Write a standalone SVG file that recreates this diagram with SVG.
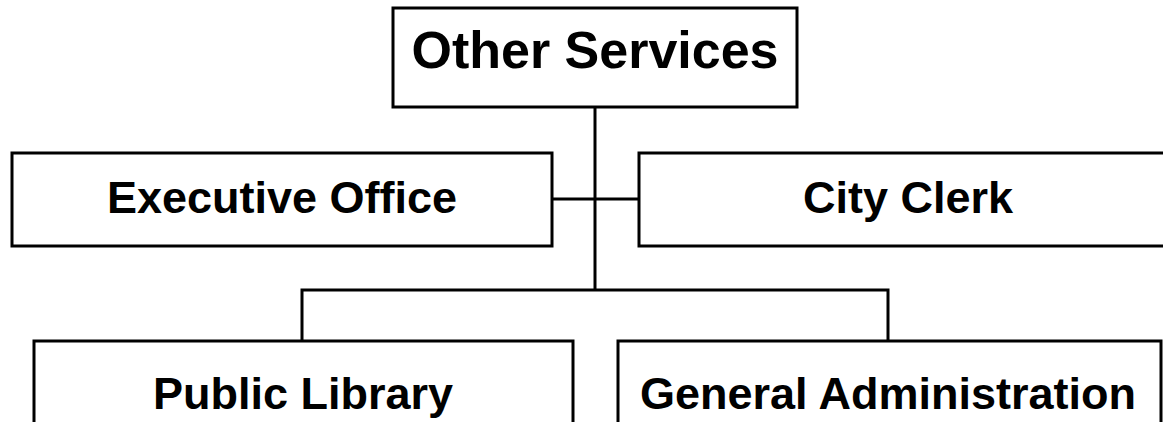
<svg xmlns="http://www.w3.org/2000/svg" width="1163" height="422" viewBox="0 0 1163 422">
<style>
.box{fill:#fff;stroke:#000;stroke-width:3}
.conn{fill:none;stroke:#000;stroke-width:3}
.t{font-family:"Liberation Sans",Arial,sans-serif;font-weight:bold;fill:#000;text-anchor:middle}
</style>
<rect width="1163" height="422" fill="#fff"/>
<g id="connectors">
<path class="conn" d="M595 107 V290"/>
<path class="conn" d="M552 199 H639"/>
<path class="conn" d="M302 341 V290 H888 V341"/>
</g>
<g id="other-services">
<rect class="box" x="393" y="8" width="404" height="99"/>
<text class="t" x="595" y="68" font-size="52">Other Services</text>
</g>
<g id="executive-office">
<rect class="box" x="12" y="153" width="540" height="93"/>
<text class="t" x="282" y="213" font-size="45">Executive Office</text>
</g>
<g id="city-clerk">
<rect class="box" x="639" y="153" width="560" height="93"/>
<text class="t" x="908" y="213" font-size="45">City Clerk</text>
</g>
<g id="public-library">
<rect class="box" x="34" y="341" width="539" height="120"/>
<text class="t" x="303" y="409" font-size="45">Public Library</text>
</g>
<g id="general-administration">
<rect class="box" x="618" y="341" width="543" height="120"/>
<text class="t" x="888" y="409" font-size="45">General Administration</text>
</g>
</svg>
